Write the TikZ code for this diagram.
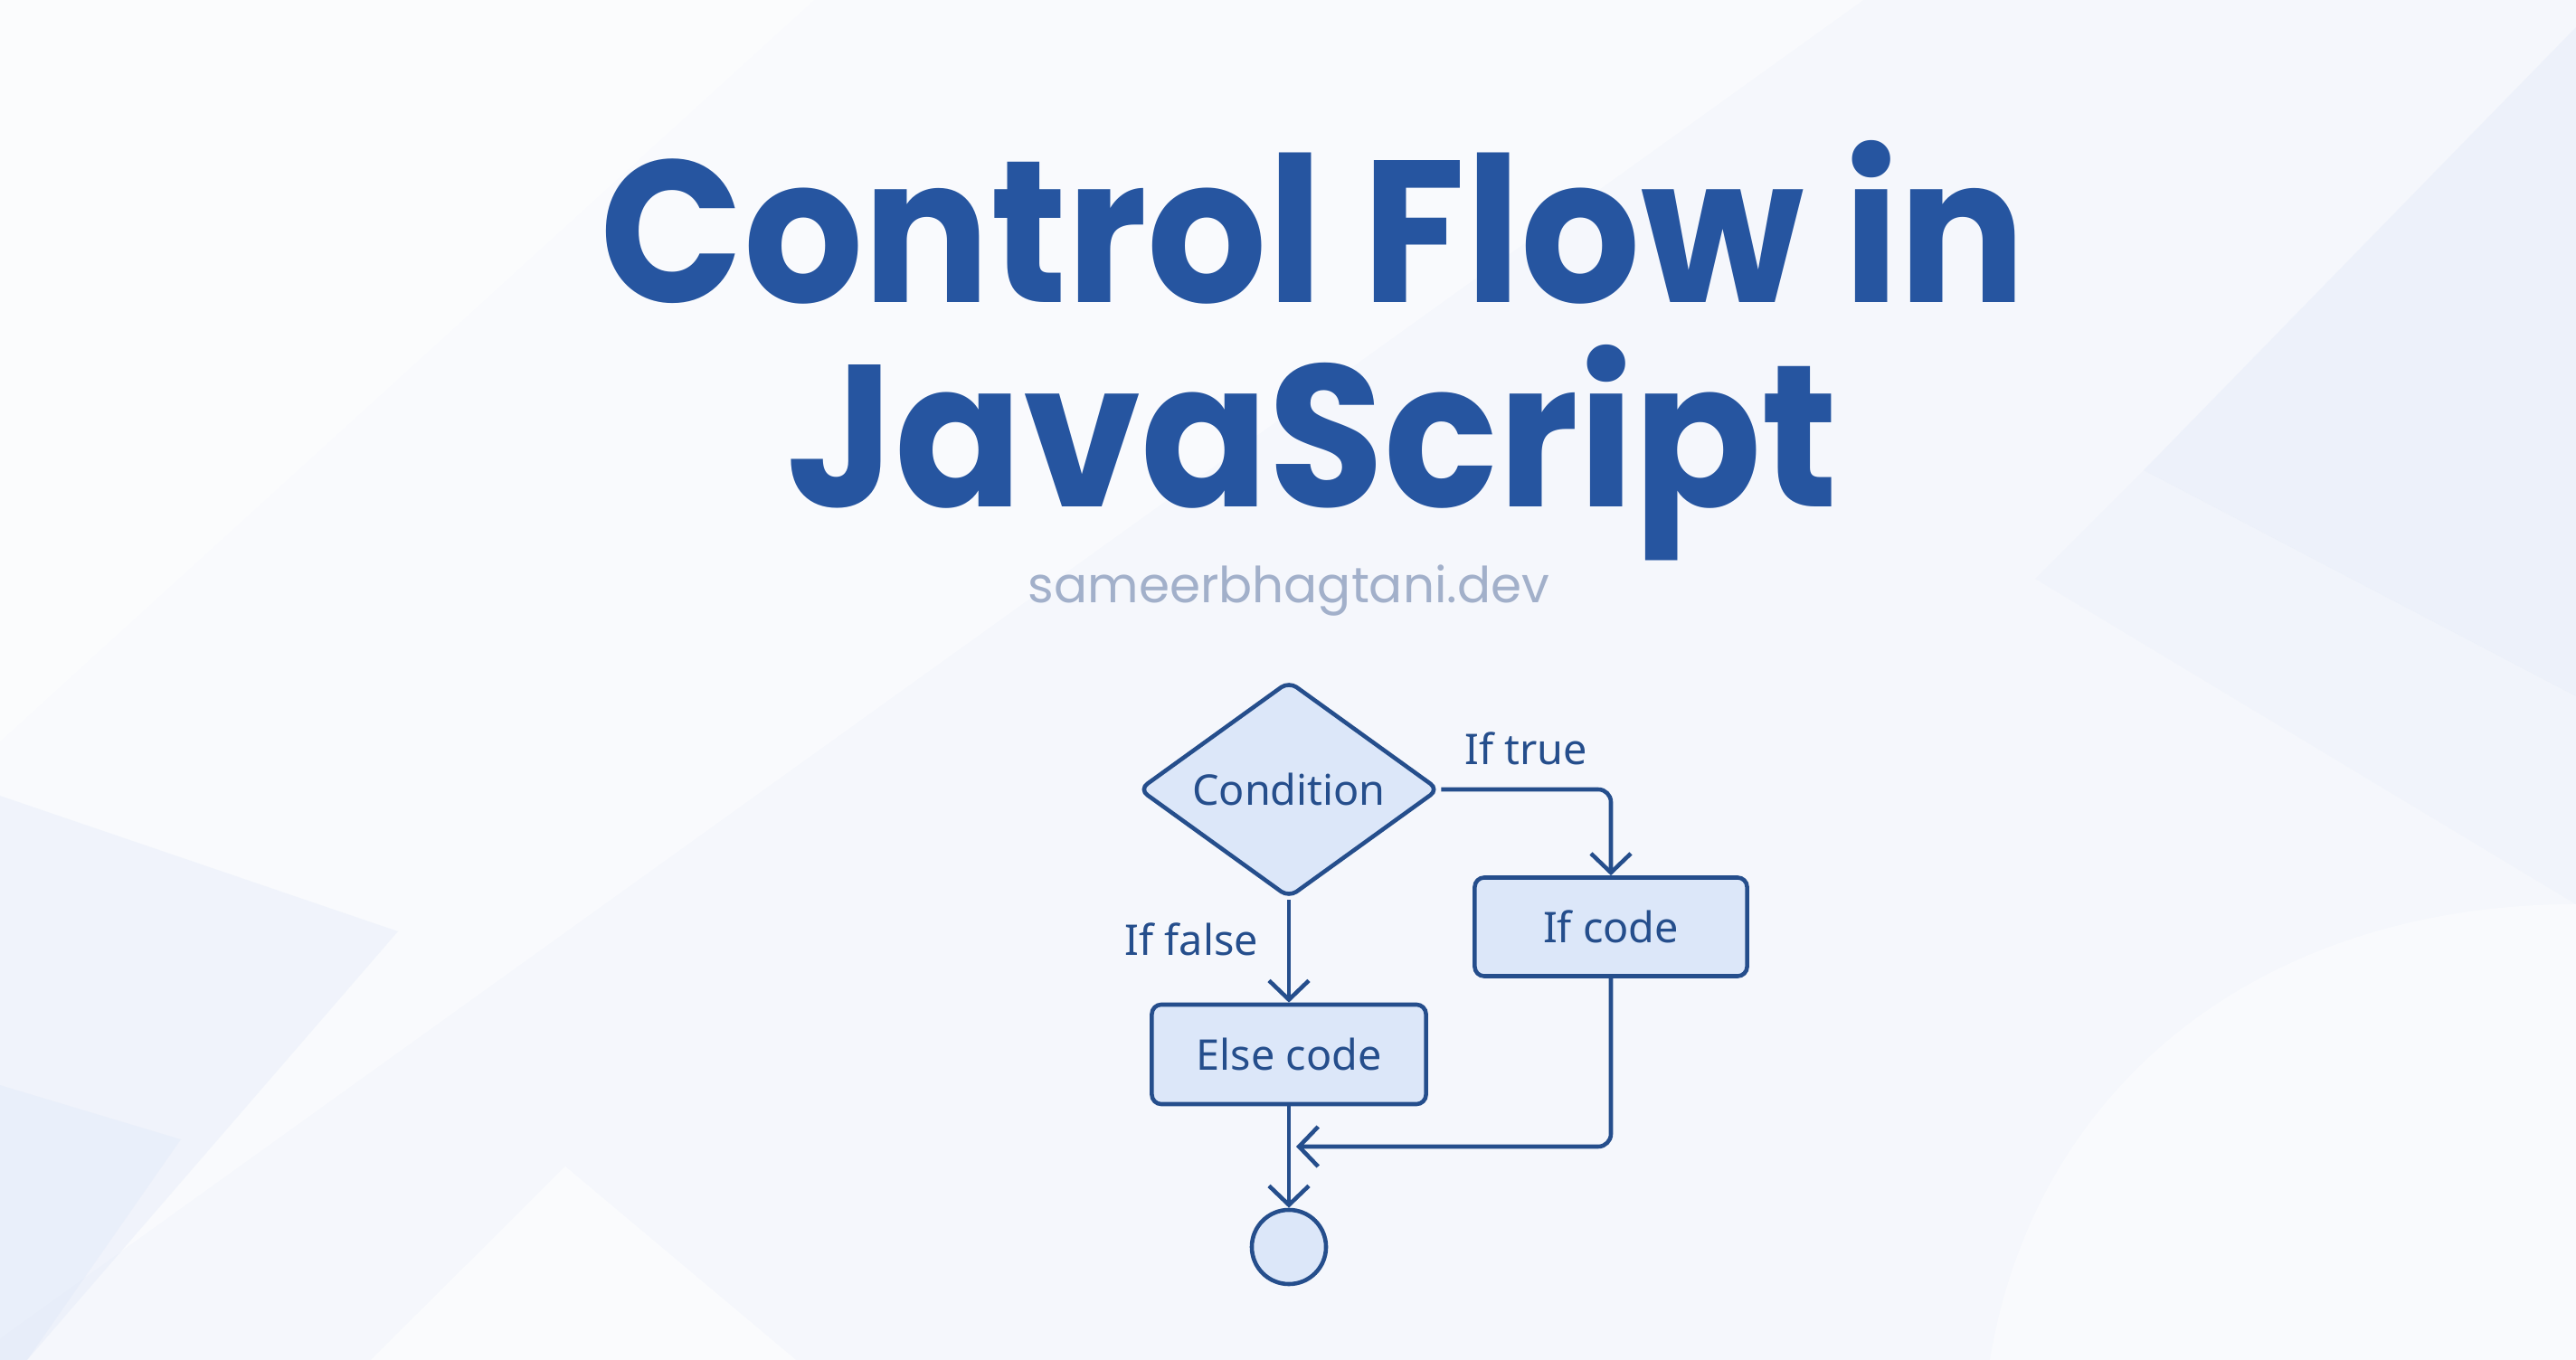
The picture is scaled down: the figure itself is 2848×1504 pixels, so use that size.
\documentclass[tikz,border=0pt]{standalone}
\usepackage{fontspec}
\setmainfont{Noto Sans}
\newfontfamily\poppins{Poppins}
\newfontfamily\poppinsnarrow{Poppins}[FakeStretch=0.93]
\usetikzlibrary{shapes.geometric,arrows.meta}

\definecolor{bgbase}{HTML}{F5F7FC}
\definecolor{bgblue}{HTML}{DCE6F8}
\definecolor{titleblue}{HTML}{2655A0}
\definecolor{subgray}{HTML}{A2B0CA}
\definecolor{flowline}{HTML}{254E8C}
\definecolor{flowfill}{HTML}{DCE7F9}

\tikzset{
  box/.style={draw=flowline, fill=flowfill, line width=1.3pt, rounded corners=3pt,
    text=flowline, font=\fontsize{13.3}{16}\selectfont},
  flow/.style={draw=flowline, line width=1.3pt, rounded corners=4pt,
    -{Straight Barb[length=6pt,width=12.5pt]}},
  lbl/.style={text=flowline, font=\fontsize{13.3}{16}\selectfont, inner sep=0pt},
  heading/.style={text=titleblue, font=\poppinsnarrow\bfseries\fontsize{63.6}{66}\selectfont,
    anchor=base, inner sep=0pt}
}

\begin{document}
\begin{tikzpicture}[x=0.01cm, y=-0.01cm]

    % --- Background ---
    \fill[bgbase] (0,0) rectangle (2848,1504);
    \fill[white, opacity=0.45] (0,0) -- (2060,0) -- (0,1480) -- cycle;
    \fill[white, opacity=0.45] (0,0) -- (900,0) -- (0,820) -- cycle;
    \fill[bgblue, opacity=0.3] (2848,30) -- (2370,520) -- (2848,770) -- cycle;
    \fill[bgblue, opacity=0.15] (2370,520) -- (2848,770) -- (2848,1000) -- (2250,640) -- cycle;
    \fill[bgblue, opacity=0.3] (0,880) -- (440,1030) -- (30,1504) -- (0,1504) -- cycle;
    \fill[bgblue, opacity=0.3] (0,1200) -- (200,1260) -- (30,1504) -- (0,1504) -- cycle;
    \fill[white, opacity=0.55] (410,1504) -- (625,1290) -- (880,1504) -- cycle;
    \fill[white, opacity=0.4] (2848,1000) .. controls (2500,1000) and (2250,1200) .. (2200,1504) -- (2848,1504) -- cycle;

    % --- Title ---
    \node[heading] (title1) at (1452,335) {Control Flow in};
    \node[heading] (title2) at (1451,561) {JavaScript};
    \node[text=subgray, font=\poppins\fontsize{15.6}{19}\selectfont, anchor=base, inner sep=0pt]
      (site) at (1425,667) {sameerbhagtani.dev};

    % --- Flowchart ---
    % Decision
    \node[box, diamond, aspect=1.38, minimum width=3.32cm, minimum height=2.40cm, inner sep=0pt]
      (cond) at (1425,873) {Condition};
    % Branches
    \node[box, minimum width=3.01cm, minimum height=1.09cm] (ifcode) at (1781,1025) {If code};
    \node[box, minimum width=3.03cm, minimum height=1.10cm] (elsecode) at (1425,1166) {Else code};
    % End
    \node[box, circle, minimum size=0.82cm, inner sep=0pt] (stop) at (1425,1379) {};
    \coordinate (merge) at (1433,1268);

    % Connectors
    \draw[flow] (cond.east) -| node[lbl, pos=0.25, above=7pt] {If true} (ifcode.north);
    \draw[flow] (cond.south) -- node[lbl, pos=0.38, left=9pt] {If false} (elsecode.north);
    \draw[flow] (ifcode.south) |- (merge);
    \draw[flow] (elsecode.south) -- (stop.north);

\end{tikzpicture}
\end{document}
